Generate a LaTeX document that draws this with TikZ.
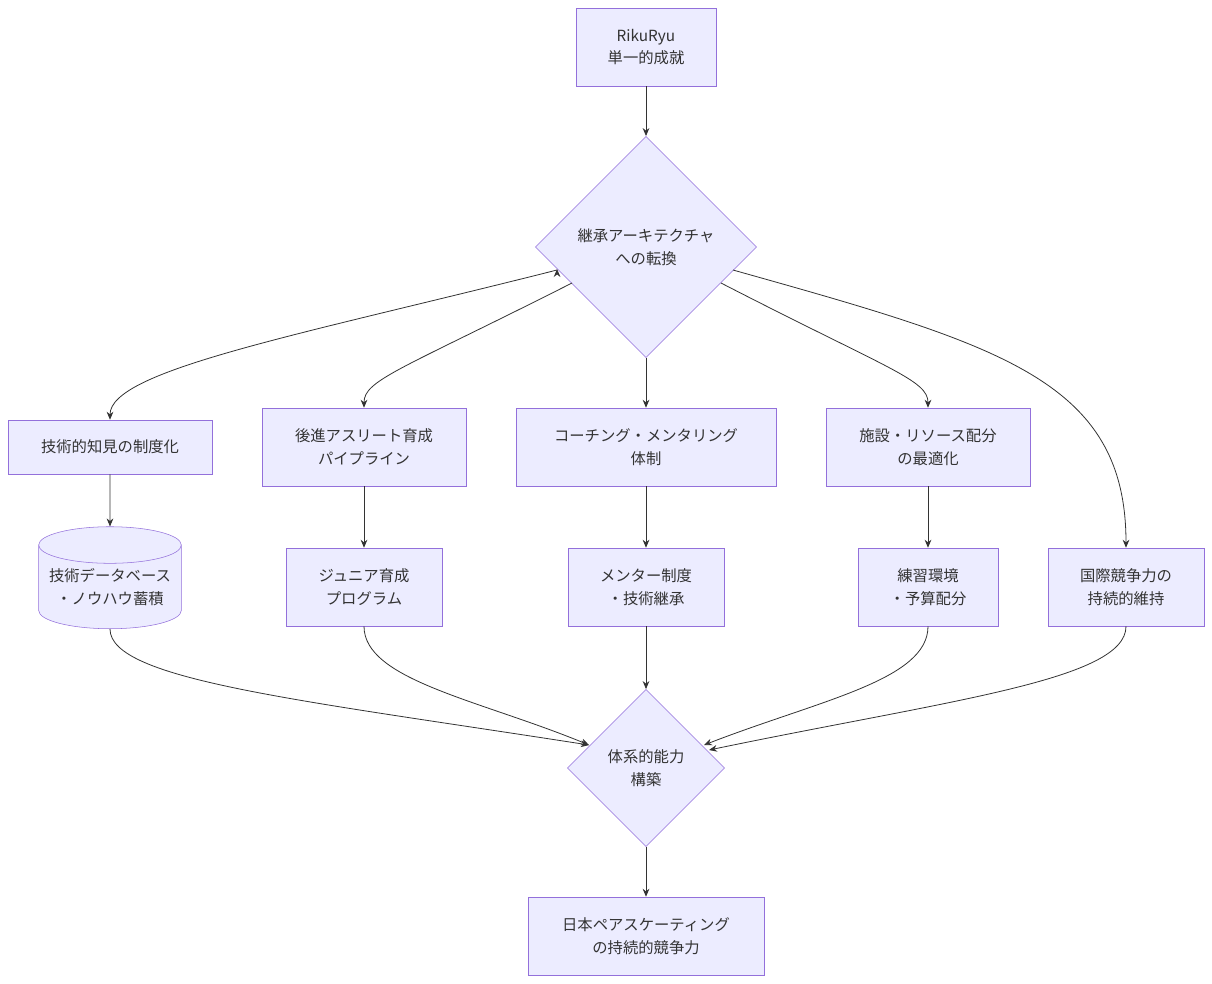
\documentclass[tikz,border=0pt]{standalone}
\usepackage{fontspec}
\setmainfont{Noto Sans CJK JP}
\usetikzlibrary{shapes.geometric,arrows.meta}
\definecolor{nf}{HTML}{ECECFF}
\definecolor{ns}{HTML}{9370DB}
\definecolor{tx}{HTML}{333333}
\begin{document}
\begin{tikzpicture}[x=0.75pt,y=-0.75pt,
 box/.style={draw=ns,fill=nf,text=tx,align=center,inner sep=0,font=\fontsize{11.5pt}{17pt}\selectfont},
 dia/.style={box,diamond,shape aspect=1},
 cyl/.style={box,cylinder,shape border rotate=90,aspect=0.3},
 ar/.style={draw=tx,-{Stealth[length=6pt,width=5pt]},line width=0.6pt}]
\useasboundingbox (0,0) rectangle (1212,983);
\node[box,minimum width=105pt,minimum height=58.5pt] (top) at (646,47) {RikuRyu\\単一的成就};
\node[dia,minimum width=166pt,minimum height=166pt] (d1) at (646,247) {継承アーキテクチャ\\への転換};
\node[box,minimum width=153pt,minimum height=40.5pt] (b1) at (110,447) {技術的知見の制度化};
\node[box,minimum width=153pt,minimum height=58.5pt] (b2) at (364,447) {後進アスリート育成\\パイプライン};
\node[box,minimum width=195pt,minimum height=58.5pt] (b3) at (646,447) {コーチング・メンタリング\\体制};
\node[box,minimum width=153pt,minimum height=58.5pt] (b4) at (928,447) {施設・リソース配分\\の最適化};
\node[cyl,minimum width=107pt,minimum height=76.5pt] (c1) at (110,587) {技術データベース\\・ノウハウ蓄積};
\node[box,minimum width=117pt,minimum height=58.5pt] (c2) at (364,587) {ジュニア育成\\プログラム};
\node[box,minimum width=117pt,minimum height=58.5pt] (c3) at (646,587) {メンター制度\\・技術継承};
\node[box,minimum width=105pt,minimum height=58.5pt] (c4) at (928,587) {練習環境\\・予算配分};
\node[box,minimum width=117pt,minimum height=58.5pt] (c5) at (1126,587) {国際競争力の\\持続的維持};
\node[dia,minimum width=118pt,minimum height=118pt] (d2) at (646,768) {体系的能力\\構築};
\node[box,minimum width=177pt,minimum height=58.5pt] (bot) at (646,936) {日本ペアスケーティング\\の持続的競争力};
\draw[ar] (top) -- (d1);
\draw[ar] (d1.west) ++(22,22) coordinate (s1);
\draw[ar] (557,270) .. controls (300,335) and (110,370) .. (b1.north);
\draw[ar] (572,283) .. controls (400,370) and (364,380) .. (b2.north);
\draw[ar] (d1) -- (b3);
\draw[ar] (721,283) .. controls (890,370) and (928,380) .. (b4.north);
\draw[ar] (733,270) .. controls (1000,345) and (1126,380) .. (c5.north);
\draw[ar] (b1) -- (c1);
\draw[ar] (b2) -- (c2);
\draw[ar] (b3) -- (c3);
\draw[ar] (b4) -- (c4);
\draw[ar] (c1.south) .. controls (110,680) and (300,700) .. (589,745);
\draw[ar] (c2.south) .. controls (364,680) and (480,700) .. (589,745);
\draw[ar] (c3) -- (d2);
\draw[ar] (c4.south) .. controls (928,680) and (820,700) .. (704,745);
\draw[ar] (c5.south) .. controls (1126,680) and (950,700) .. (709,750);
\draw[ar] (d2) -- (bot);
\end{tikzpicture}
\end{document}
